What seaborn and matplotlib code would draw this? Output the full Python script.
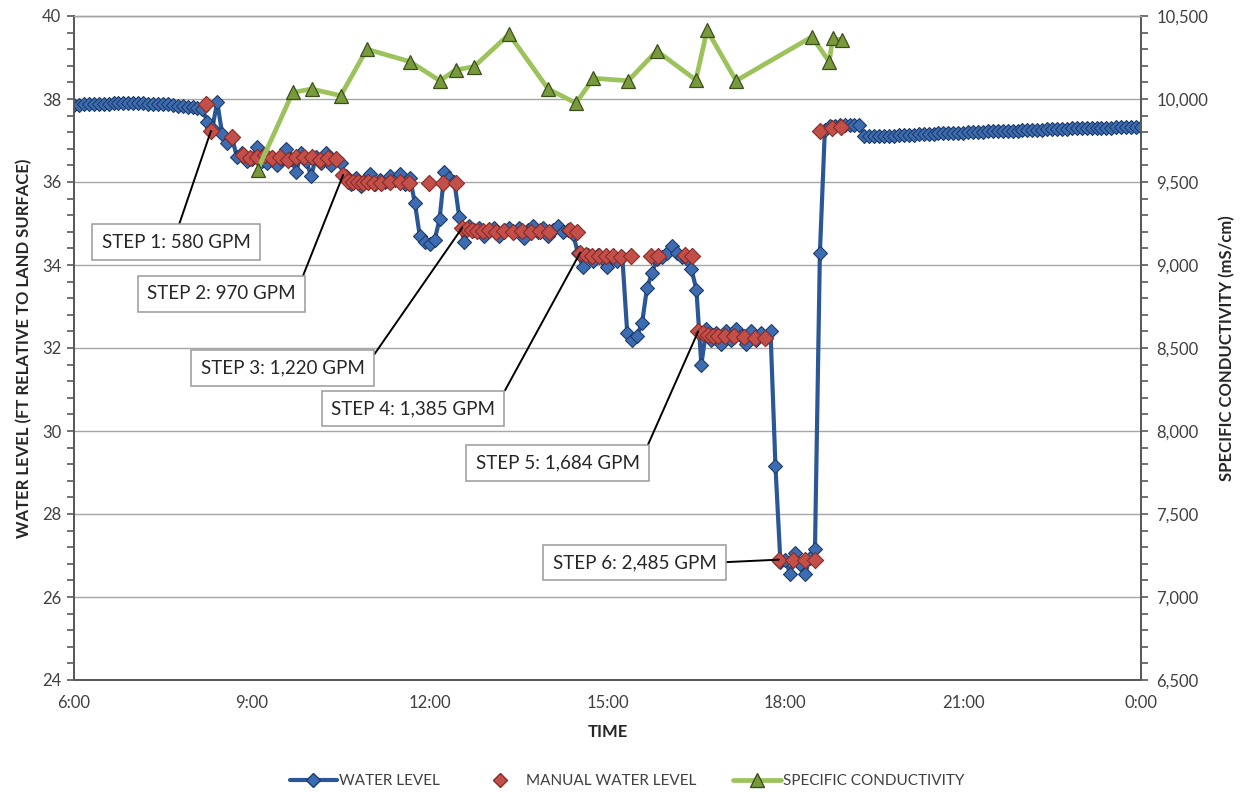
import numpy as np
import pandas as pd
import matplotlib
matplotlib.use("Agg")
import matplotlib.pyplot as plt
import seaborn as sns
from matplotlib.lines import Line2D
from matplotlib.ticker import MultipleLocator, FuncFormatter

# ---------------------------------------------------------------
# Logger water level, one reading every 5 minutes from 6:00 to 24:00
# (ft relative to land surface)
# ---------------------------------------------------------------
level_static = [37.85, 37.86, 37.87, 37.87, 37.88, 37.88, 37.89, 37.89, 37.90, 37.90,
                37.90, 37.90, 37.90, 37.90, 37.90, 37.89, 37.89, 37.89, 37.88, 37.87,
                37.85, 37.84, 37.82, 37.81, 37.80, 37.78]
level_step1 = [37.75, 37.45, 37.30, 37.93, 37.15, 36.95, 37.05, 36.60, 36.70, 36.50,
               36.55, 36.85, 36.50, 36.45, 36.60, 36.40, 36.55, 36.80, 36.55, 36.25,
               36.70, 36.50, 36.15, 36.60, 36.45, 36.70, 36.40, 36.55, 36.45]
level_step2 = [36.15, 35.95, 36.10, 35.90, 36.05, 36.20, 35.95, 36.05, 36.00, 36.15,
               36.05, 36.20, 35.95, 36.10, 35.50, 34.70, 34.55, 34.50, 34.60, 35.10,
               36.25, 36.10, 36.00, 35.15]
level_step3 = [34.55, 34.95, 34.85, 34.90, 34.70, 34.85, 34.90, 34.70, 34.85, 34.90,
               34.80, 34.90, 34.65, 34.85, 34.95, 34.80, 34.90, 34.70, 34.85, 34.95,
               34.80, 34.85, 34.75]
level_step4 = [34.30, 33.95, 34.25, 34.10, 34.25, 34.15, 33.95, 34.20, 34.10, 34.20,
               32.35, 32.20, 32.30, 32.60, 33.45, 33.80, 34.15, 34.20, 34.30, 34.45,
               34.30, 34.20, 34.15, 33.90, 33.40]
level_step5 = [31.60, 32.45, 32.20, 32.35, 32.10, 32.40, 32.20, 32.45, 32.30, 32.10,
               32.40, 32.20, 32.35, 32.25, 32.40]
level_step6 = [29.15, 26.85, 26.90, 26.55, 27.05, 26.80, 26.55, 26.95, 27.15]
level_recovery = [34.30, 37.25, 37.35, 37.36, 37.37, 37.37, 37.38, 37.38, 37.38, 37.10,
                  37.10, 37.10, 37.11, 37.11, 37.12, 37.12, 37.13, 37.13, 37.14, 37.14,
                  37.15, 37.15, 37.16, 37.16, 37.17, 37.17, 37.18, 37.18, 37.19, 37.19,
                  37.20, 37.20, 37.21, 37.21, 37.22, 37.22, 37.22, 37.23, 37.23, 37.24,
                  37.24, 37.25, 37.25, 37.26, 37.26, 37.26, 37.27, 37.27, 37.28, 37.28,
                  37.28, 37.29, 37.29, 37.29, 37.30, 37.30, 37.30, 37.31, 37.31, 37.31,
                  37.32, 37.32, 37.32, 37.33, 37.33, 37.33]

level = (level_static + level_step1 + level_step2 + level_step3 + level_step4
         + level_step5 + level_step6 + level_recovery)
log_start_hour = 6.0
log_interval_hours = 5 / 60
level_hour = log_start_hour + log_interval_hours * np.arange(len(level))

# ---------------------------------------------------------------
# Manual (tape) water level measurements
# ---------------------------------------------------------------
manual_hour = [8.23, 8.31, 8.67, 8.85, 8.97, 9.09, 9.22, 9.34, 9.48, 9.61,
               9.75, 9.88, 10.02, 10.15, 10.29, 10.42, 10.54, 10.62, 10.71, 10.79,
               10.88, 10.96, 11.06, 11.18, 11.33, 11.50, 11.65, 11.99, 12.23, 12.44,
               12.55, 12.63, 12.71, 12.80, 12.90, 13.00, 13.12, 13.25, 13.41, 13.56,
               13.71, 13.86, 14.01, 14.37, 14.49, 14.54, 14.64, 14.74, 14.86, 14.97,
               15.09, 15.23, 15.40, 15.73, 15.85, 16.31, 16.43, 16.53, 16.61, 16.70,
               16.78, 16.86, 16.98, 17.13, 17.30, 17.49, 17.66, 17.89, 18.13, 18.33,
               18.50, 18.58, 18.79, 18.94]
manual_level = [37.88, 37.23, 37.08, 36.65, 36.58, 36.60, 36.65, 36.58, 36.60, 36.53,
                36.60, 36.60, 36.60, 36.53, 36.58, 36.55, 36.17, 36.02, 36.00, 36.00,
                35.98, 36.00, 35.98, 35.98, 36.00, 36.00, 35.98, 35.98, 35.98, 35.98,
                34.90, 34.87, 34.85, 34.83, 34.83, 34.85, 34.80, 34.83, 34.80, 34.83,
                34.80, 34.83, 34.80, 34.85, 34.80, 34.30, 34.25, 34.22, 34.22, 34.22,
                34.22, 34.20, 34.22, 34.22, 34.22, 34.25, 34.22, 32.40, 32.35, 32.32,
                32.30, 32.30, 32.28, 32.30, 32.27, 32.25, 32.23, 26.90, 26.88, 26.90,
                26.90, 37.23, 37.30, 37.33]

# ---------------------------------------------------------------
# Specific conductivity (mS/cm)
# ---------------------------------------------------------------
cond_hour = [9.10, 9.69, 10.01, 10.50, 10.94, 11.67, 12.17, 12.44, 12.75, 13.34,
             14.00, 14.47, 14.76, 15.35, 15.83, 16.49, 16.68, 17.17, 18.45, 18.74,
             18.80, 18.96]
cond_value = [9575, 10040, 10060, 10020, 10300, 10225, 10110, 10175, 10195, 10390,
              10060, 9975, 10125, 10110, 10290, 10115, 10415, 10110, 10375, 10225,
              10365, 10355]

# Pumping steps: label, index of the manual reading the callout points to,
# and callout box centre (hour, ft)
step_labels = ["STEP 1: 580 GPM", "STEP 2: 970 GPM", "STEP 3: 1,220 GPM",
               "STEP 4: 1,385 GPM", "STEP 5: 1,684 GPM", "STEP 6: 2,485 GPM"]
step_manual_index = [1, 16, 30, 45, 57, 67]
step_box_hour = [7.72, 8.49, 9.52, 11.72, 14.16, 15.46]
step_box_level = [34.55, 33.31, 31.51, 30.54, 29.22, 26.83]

time_ticks = [6, 9, 12, 15, 18, 21, 24]
time_tick_labels = ["6:00", "9:00", "12:00", "15:00", "18:00", "21:00", "0:00"]

# ---------------------------------------------------------------
wl_df = pd.DataFrame({"hour": level_hour, "level": level})
man_df = pd.DataFrame({"hour": manual_hour, "level": manual_level})
cond_df = pd.DataFrame({"hour": cond_hour, "cond": cond_value})

sns.set_theme(style="white")
plt.rcParams["font.family"] = ["Lato", "DejaVu Sans"]

BLUE_LINE = "#2B5797"
BLUE_FACE = "#3D6DB0"
BLUE_EDGE = "#1C3C6B"
RED_FACE = "#C24F49"
RED_EDGE = "#8A2B27"
GREEN_LINE = "#9CC35B"
GREEN_FACE = "#789A3C"
GREEN_EDGE = "#3B4F1C"
AXIS_COL = "#595959"
TEXT_COL = "#404040"
GRID_COL = "#A6A6A6"

W, H = 1249, 792
fig = plt.figure(figsize=(W / 100, H / 100), dpi=100)
ax = fig.add_axes([74 / W, 1 - 680 / H, (1141 - 74) / W, (680 - 16) / H])
ax2 = ax.twinx()

# Water level (logger)
sns.lineplot(data=wl_df, x="hour", y="level", ax=ax, sort=False, estimator=None,
             color=BLUE_LINE, lw=3.0, marker="D", markersize=7.5,
             markerfacecolor=BLUE_FACE, markeredgecolor=BLUE_EDGE,
             markeredgewidth=0.8, legend=False, zorder=3)
# Manual water level
sns.scatterplot(data=man_df, x="hour", y="level", ax=ax, marker="D", s=68,
                color=RED_FACE, edgecolor=RED_EDGE, linewidth=0.8,
                legend=False, zorder=4)
# Specific conductivity
sns.lineplot(data=cond_df, x="hour", y="cond", ax=ax2, sort=False, estimator=None,
             color=GREEN_LINE, lw=3.4, marker="^", markersize=10.5,
             markerfacecolor=GREEN_FACE, markeredgecolor=GREEN_EDGE,
             markeredgewidth=0.9, legend=False, zorder=3)

# Axes limits & ticks
ax.set_xlim(6, 24)
ax.set_ylim(24, 40)
ax2.set_ylim(6500, 10500)
ax.set_xticks(time_ticks)
ax.set_xticklabels(time_tick_labels)
ax.xaxis.set_minor_locator(MultipleLocator(0.6))
ax.yaxis.set_major_locator(MultipleLocator(2))
ax.yaxis.set_minor_locator(MultipleLocator(0.4))
ax2.yaxis.set_major_locator(MultipleLocator(500))
ax2.yaxis.set_minor_locator(MultipleLocator(100))
ax2.yaxis.set_major_formatter(FuncFormatter(lambda v, p: f"{int(v):,}"))

for a in (ax, ax2):
    a.tick_params(axis="both", which="both", direction="out", length=5, width=1.2,
                  color=AXIS_COL, labelsize=12, labelcolor=TEXT_COL)
    for side in ("left", "right", "bottom"):
        a.spines[side].set_color(AXIS_COL)
        a.spines[side].set_linewidth(1.3)
    a.spines["top"].set_color(GRID_COL)
    a.spines["top"].set_linewidth(1.0)
ax.tick_params(axis="y", pad=4)
ax2.tick_params(axis="y", pad=6)
ax.tick_params(axis="x", pad=6)

ax.yaxis.grid(True, color=GRID_COL, lw=1.0)
ax.xaxis.grid(False)
ax.set_axisbelow(True)

ax.set_xlabel("TIME", fontsize=12, fontweight="bold", color="#262626", labelpad=9)
ax.set_ylabel("WATER LEVEL (FT RELATIVE TO LAND SURFACE)", fontsize=12,
              fontweight="bold", color="#262626", labelpad=7)
ax2.set_ylabel("SPECIFIC CONDUCTIVITY (mS/cm)", fontsize=12, fontweight="bold",
               color="#262626", labelpad=8)

# Step callouts
for i, (lab, idx, bx, by) in enumerate(zip(step_labels, step_manual_index,
                                           step_box_hour, step_box_level)):
    rel = (0.5, 1.0) if i == 0 else (1.0, 0.5)
    ax.annotate(lab, xy=(manual_hour[idx], manual_level[idx]), xytext=(bx, by),
                textcoords="data", ha="center", va="center", fontsize=13.5,
                color="#262626", zorder=6,
                bbox=dict(boxstyle="square,pad=0.5", fc="white", ec="#9A9A9A", lw=1.1),
                arrowprops=dict(arrowstyle="-", color="black", lw=1.4,
                                shrinkA=0, shrinkB=0, relpos=rel))

# Legend
handles = [
    Line2D([], [], color=BLUE_LINE, lw=3.0, marker="D", markersize=7,
           markerfacecolor=BLUE_FACE, markeredgecolor=BLUE_EDGE),
    Line2D([], [], ls="none", marker="D", markersize=7,
           markerfacecolor=RED_FACE, markeredgecolor=RED_EDGE),
    Line2D([], [], color=GREEN_LINE, lw=3.4, marker="^", markersize=9.5,
           markerfacecolor=GREEN_FACE, markeredgecolor=GREEN_EDGE),
]
labels = ["WATER LEVEL", "MANUAL WATER LEVEL", "SPECIFIC CONDUCTIVITY"]
leg = fig.legend(handles, labels, loc="center", bbox_to_anchor=(0.502, 1 - 781 / H),
                 ncol=3, frameon=False, fontsize=11, handlelength=3.1,
                 columnspacing=2.4, handletextpad=0.15)
for t in leg.get_texts():
    t.set_color(TEXT_COL)

fig.savefig("out.png", dpi=100)
